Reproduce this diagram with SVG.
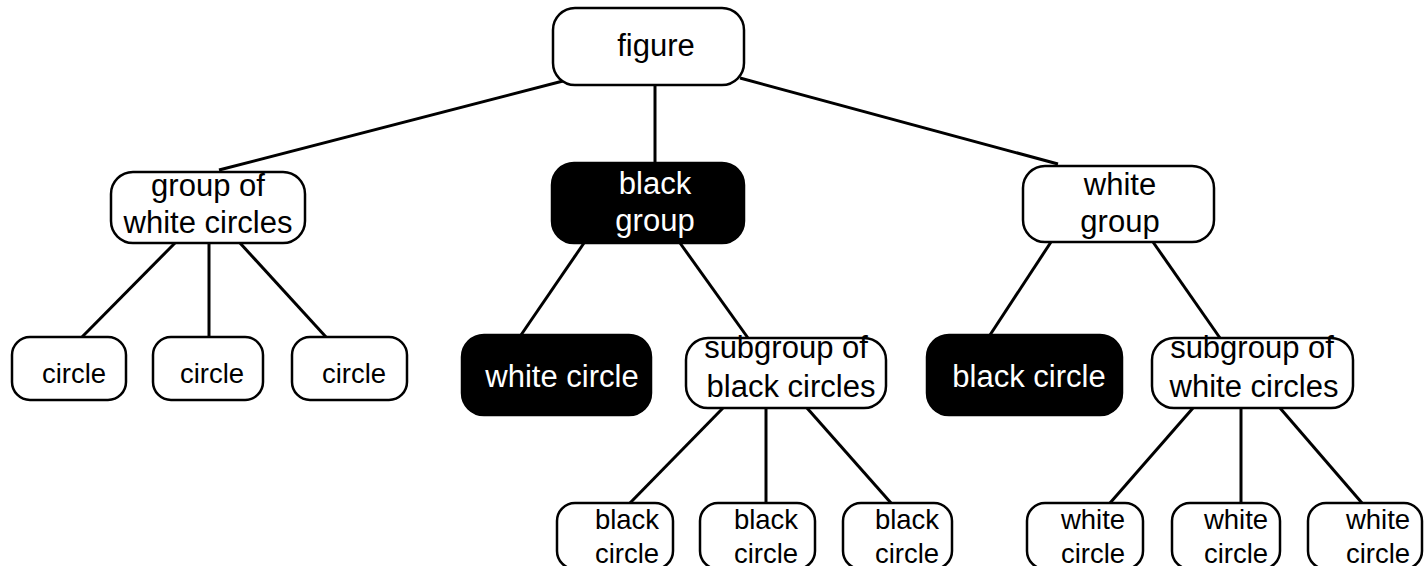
<svg xmlns="http://www.w3.org/2000/svg" width="1425" height="566" viewBox="0 0 1425 566">
  <style>
    .box { fill: #fff; stroke: #000; stroke-width: 2.5; }
    .dark { fill: #000; stroke: #000; stroke-width: 2.5; }
    .lbl { font-family: "Liberation Sans", Arial, Helvetica, sans-serif; font-size: 31px; text-anchor: middle; fill: #000; }
    .sm { font-size: 27.5px; }
    .inv { fill: #fff; }
    .edge { stroke: #000; stroke-width: 3; fill: none; }
  </style>
  <rect width="1425" height="566" fill="#fff"/>

  <g id="connectors">
    <line class="edge" x1="563" y1="81" x2="219" y2="170"/>
    <line class="edge" x1="655" y1="85" x2="655" y2="163"/>
    <line class="edge" x1="740" y1="78" x2="1058" y2="164"/>
    <line class="edge" x1="175" y1="243" x2="82" y2="337"/>
    <line class="edge" x1="209" y1="243" x2="209" y2="337"/>
    <line class="edge" x1="240" y1="243" x2="326" y2="337"/>
    <line class="edge" x1="584" y1="243" x2="521" y2="335"/>
    <line class="edge" x1="680" y1="243" x2="748" y2="338"/>
    <line class="edge" x1="1051" y1="242" x2="990" y2="335"/>
    <line class="edge" x1="1153" y1="242" x2="1220" y2="338"/>
    <line class="edge" x1="723" y1="408" x2="630" y2="503"/>
    <line class="edge" x1="766" y1="408" x2="766" y2="503"/>
    <line class="edge" x1="807" y1="408" x2="891" y2="503"/>
    <line class="edge" x1="1193" y1="408" x2="1110" y2="503"/>
    <line class="edge" x1="1241" y1="408" x2="1241" y2="503"/>
    <line class="edge" x1="1280" y1="408" x2="1362" y2="503"/>
  </g>

  <g id="figure">
    <rect class="box" x="553" y="8" width="191" height="77" rx="22"/>
    <text class="lbl" x="656" y="56">figure</text>
  </g>

  <g id="group-white-circles">
    <rect class="box" x="111" y="172" width="194" height="71" rx="22"/>
    <text class="lbl" x="208" y="196">group of</text>
    <text class="lbl" x="208" y="233">white circles</text>
  </g>

  <g id="black-group">
    <rect class="dark" x="552" y="163" width="192" height="80" rx="22"/>
    <text class="lbl inv" x="655" y="194">black</text>
    <text class="lbl inv" x="655" y="231">group</text>
  </g>

  <g id="white-group">
    <rect class="box" x="1023" y="166" width="191" height="76" rx="22"/>
    <text class="lbl" x="1120" y="195">white</text>
    <text class="lbl" x="1120" y="232">group</text>
  </g>

  <g id="circle-1">
    <rect class="box" x="12" y="337" width="114" height="63" rx="18"/>
    <text class="lbl sm" x="74" y="383">circle</text>
  </g>
  <g id="circle-2">
    <rect class="box" x="153" y="337" width="110" height="63" rx="18"/>
    <text class="lbl sm" x="212" y="383">circle</text>
  </g>
  <g id="circle-3">
    <rect class="box" x="292" y="337" width="115" height="63" rx="18"/>
    <text class="lbl sm" x="354" y="383">circle</text>
  </g>

  <g id="white-circle">
    <rect class="dark" x="462" y="335" width="189" height="80" rx="22"/>
    <text class="lbl inv" x="562" y="387">white circle</text>
  </g>

  <g id="subgroup-black-circles">
    <rect class="box" x="686" y="338" width="200" height="70" rx="22"/>
    <text class="lbl" x="786" y="358">subgroup of</text>
    <text class="lbl" x="791" y="397">black circles</text>
  </g>

  <g id="black-circle">
    <rect class="dark" x="927" y="335" width="195" height="80" rx="22"/>
    <text class="lbl inv" x="1029" y="387">black circle</text>
  </g>

  <g id="subgroup-white-circles">
    <rect class="box" x="1152" y="338" width="201" height="70" rx="22"/>
    <text class="lbl" x="1252" y="358">subgroup of</text>
    <text class="lbl" x="1254" y="397">white circles</text>
  </g>

  <g id="black-circle-1">
    <rect class="box" x="557" y="503" width="116" height="66" rx="18"/>
    <text class="lbl sm" x="627" y="529">black</text>
    <text class="lbl sm" x="627" y="563">circle</text>
  </g>
  <g id="black-circle-2">
    <rect class="box" x="700" y="503" width="115" height="66" rx="18"/>
    <text class="lbl sm" x="766" y="529">black</text>
    <text class="lbl sm" x="766" y="563">circle</text>
  </g>
  <g id="black-circle-3">
    <rect class="box" x="843" y="503" width="109" height="66" rx="18"/>
    <text class="lbl sm" x="907" y="529">black</text>
    <text class="lbl sm" x="907" y="563">circle</text>
  </g>

  <g id="white-circle-1">
    <rect class="box" x="1027" y="503" width="116" height="66" rx="18"/>
    <text class="lbl sm" x="1093" y="529">white</text>
    <text class="lbl sm" x="1093" y="563">circle</text>
  </g>
  <g id="white-circle-2">
    <rect class="box" x="1172" y="503" width="108" height="66" rx="18"/>
    <text class="lbl sm" x="1236" y="529">white</text>
    <text class="lbl sm" x="1236" y="563">circle</text>
  </g>
  <g id="white-circle-3">
    <rect class="box" x="1308" y="503" width="114" height="66" rx="18"/>
    <text class="lbl sm" x="1378" y="529">white</text>
    <text class="lbl sm" x="1378" y="563">circle</text>
  </g>
</svg>
